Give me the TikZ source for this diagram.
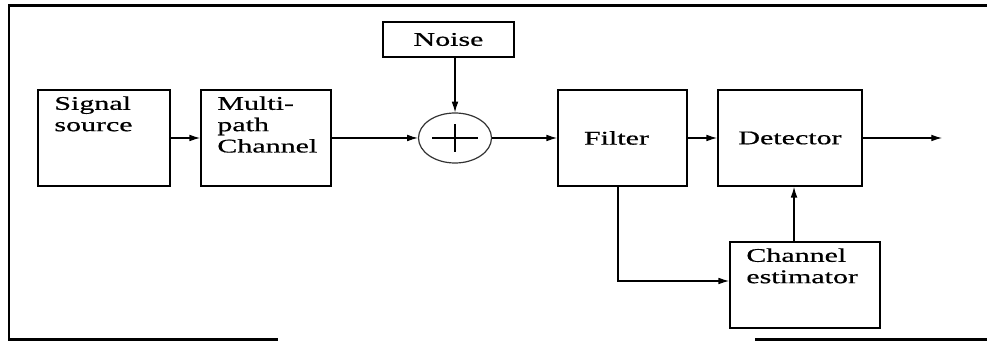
\documentclass[tikz,border=0pt]{standalone}
\usepackage{fontspec}
\setmainfont{Liberation Serif}[FakeStretch=1.55,FakeBold=0.6]
\usetikzlibrary{positioning,arrows.meta,shapes.geometric}
\tikzset{
	blk/.style={draw,line width=1.3pt,inner sep=0pt,minimum height=72pt,font=\fontsize{14.5}{16}\selectfont},
	txt/.style={inner sep=0pt,align=left,font=\fontsize{14.5}{16}\selectfont},
	sig/.style={-{Latex[length=8pt,width=5pt]},line width=0.8pt}
}
\begin{document}
\begin{tikzpicture}[x=0.75pt,y=-0.75pt]
	\useasboundingbox (0,0) rectangle (987,341);
	\draw[line width=2.2pt] (987,5.5) -- (9,5.5) -- (9,339.5) -- (278,339.5);
	\draw[line width=2.2pt] (755,339.5) -- (987,339.5);
	\node[blk,minimum width=99pt] (src) at (104,138) {};
	\node[blk,minimum width=97.5pt] (mpc) at (266,138) {};
	\node[blk,minimum width=98.25pt,minimum height=26.25pt] (noise) at (448.5,39.5) {Noise};
	\node[draw=black!80,line width=0.9pt,ellipse,minimum width=54.75pt,minimum height=37.5pt,inner sep=0pt] (add) at (455,138) {};
	\node[blk,minimum width=96.75pt] (filt) at (622.5,138) {Filter\hspace*{9pt}};
	\node[blk,minimum width=108pt] (det) at (790,138) {Detector};
	\node[blk,minimum width=112.5pt,minimum height=64.5pt] (est) at (805,285) {};
	\coordinate (out) at (942,138);
	\node[txt,below right=5.25pt and 12.75pt of src.north west] (srct) {Signal\\source};
	\node[txt,below right=5.25pt and 12.75pt of mpc.north west] (mpct) {Multi-\\path\\Channel};
	\node[txt,below right=5.25pt and 12.75pt of est.north west] (estt) {Channel\\estimator};
	\draw[line width=0.8pt] ([xshift=-17pt]add.center) -- ([xshift=17pt]add.center)
		([yshift=-10.5pt]add.center) -- ([yshift=10.5pt]add.center);
	\draw[sig] (src) -- (mpc);
	\draw[sig] (mpc) -- (add);
	\draw[sig] (noise.south -| add) -- (add.north);
	\draw[sig] (add) -- (filt);
	\draw[sig] (filt) -- (det);
	\draw[sig] (det) -- (out);
	\draw[sig] ([xshift=-3.4pt]filt.south) |- ([yshift=3pt]est.west);
	\draw[sig] ([xshift=3pt]det.south |- est.north) -- ([xshift=3pt]det.south);
\end{tikzpicture}
\end{document}
